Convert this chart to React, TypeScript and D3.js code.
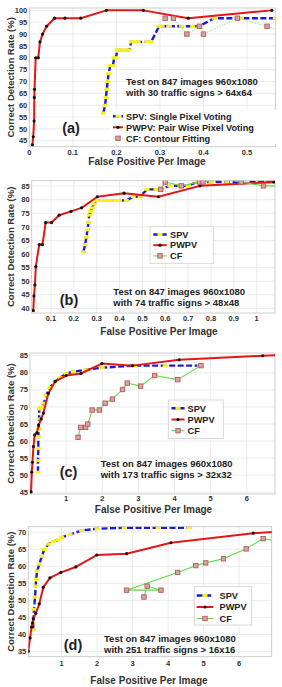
import React, { useEffect, useRef } from "react";
import * as d3 from "d3";

type Pt = [number, number];

// (a) 30 traffic signs > 64x64
const spvA: Pt[] = [
  [0.170, 56.7], [0.174, 60], [0.176, 63.3], [0.178, 66.7], [0.180, 70], [0.182, 73.3],
  [0.186, 76.7], [0.192, 76.7], [0.195, 80], [0.199, 80], [0.202, 83.3], [0.208, 83.3],
  [0.215, 83.3], [0.222, 83.3], [0.230, 83.3], [0.234, 86.7], [0.242, 86.7], [0.250, 86.7],
  [0.270, 86.7], [0.280, 86.7], [0.298, 93.3], [0.305, 93.3], [0.322, 93.3], [0.350, 93.3],
  [0.375, 93.3], [0.390, 93.3], [0.425, 96.7], [0.487, 96.7], [0.565, 96.7],
];
const pwpvA: Pt[] = [
  [0.007, 43.3], [0.009, 46.7], [0.011, 53.3], [0.0115, 63.3], [0.012, 66.7], [0.0146, 80],
  [0.0206, 80], [0.0245, 86.7], [0.0306, 90], [0.0398, 93.3], [0.058, 96.7], [0.0817, 96.7],
  [0.118, 96.7], [0.177, 100], [0.262, 100], [0.365, 96.7], [0.557, 100],
];
const cfA: Pt[] = [
  [0.312, 96.7], [0.331, 96.7], [0.362, 90], [0.391, 93.3], [0.400, 90], [0.478, 96.7],
  [0.546, 93.3], [0.600, 90],
];

// (b) 74 traffic signs > 48x48
const spvB: Pt[] = [
  [0.242, 60.8], [0.250, 63.5], [0.255, 66.2], [0.260, 68.9], [0.264, 71.6], [0.268, 74.3],
  [0.274, 75.7], [0.280, 77.0], [0.288, 78.4], [0.298, 79.7], [0.310, 79.7], [0.325, 79.7],
  [0.340, 79.7], [0.360, 79.7], [0.380, 79.7], [0.400, 79.7], [0.430, 79.7], [0.460, 81.1],
  [0.490, 81.1], [0.520, 83.8], [0.560, 83.8], [0.580, 83.8], [0.620, 85.1], [0.665, 85.1],
  [0.700, 85.1], [0.738, 86.5], [0.800, 86.5], [0.870, 86.5], [0.950, 86.5], [1.080, 86.5],
];
const pwpvB: Pt[] = [
  [0.023, 39.2], [0.026, 44.6], [0.030, 48.6], [0.034, 55.4], [0.049, 63.5], [0.063, 63.5],
  [0.077, 71.6], [0.103, 71.6], [0.136, 74.3], [0.188, 75.7], [0.234, 77.0], [0.303, 81.1],
  [0.420, 82.4], [0.570, 81.1], [0.752, 85.1], [1.075, 86.5],
];
const cfB: Pt[] = [
  [0.580, 83.8], [0.600, 86.5], [0.670, 85.1], [0.750, 86.5], [0.765, 86.5], [0.830, 87.8],
  [0.932, 86.5], [1.030, 85.1], [1.120, 85.1],
];

// (c) 173 traffic signs > 32x32
const spvC: Pt[] = [
  [0.22, 50.9], [0.22, 54.3], [0.23, 57.8], [0.23, 61.3], [0.24, 63.6], [0.25, 66.5],
  [0.26, 69.4], [0.30, 69.9], [0.38, 71.1], [0.45, 73.4], [0.55, 75.7], [0.70, 77.5],
  [0.85, 78.6], [1.00, 79.8], [1.20, 80.3], [1.55, 80.9], [2.00, 81.5], [2.90, 82.1],
  [3.74, 82.1], [4.70, 82.1],
];
const pwpvC: Pt[] = [
  [0.03, 45.1], [0.05, 50.9], [0.068, 53.8], [0.096, 58.4], [0.13, 61.8], [0.19, 62.4],
  [0.24, 64.7], [0.31, 66.5], [0.37, 68.2], [0.51, 74.0], [0.70, 77.5], [1.00, 79.2],
  [1.41, 79.8], [1.99, 82.7], [2.84, 82.1], [4.13, 83.8], [6.44, 85.0], [6.90, 85.2],
];
const cfC: Pt[] = [
  [1.33, 61.1], [1.40, 64.0], [1.54, 64.0], [1.60, 65.0], [1.72, 69.1], [1.92, 69.1],
  [2.08, 71.1], [2.28, 72.3], [2.56, 75.1], [2.69, 77.0], [3.06, 76.1], [3.45, 79.2],
  [4.09, 78.0], [4.73, 82.1],
];

// (d) 251 traffic signs > 16x16
const spvD: Pt[] = [
  [0.20, 41.4], [0.20, 43.4], [0.22, 47.4], [0.25, 51.0], [0.27, 54.2], [0.28, 56.2],
  [0.31, 58.6], [0.37, 60.6], [0.44, 62.9], [0.51, 64.9], [0.63, 66.5], [0.77, 67.3],
  [0.90, 67.7], [1.00, 68.5], [1.24, 69.3], [1.56, 70.5], [2.00, 71.0], [2.76, 71.3],
  [3.72, 71.3], [4.60, 71.3],
];
const pwpvD: Pt[] = [
  [0.06, 35.1], [0.11, 39.0], [0.15, 42.2], [0.18, 43.4], [0.20, 44.6], [0.27, 46.2],
  [0.37, 49.0], [0.48, 53.8], [0.67, 56.6], [0.98, 58.2], [1.40, 59.8], [1.99, 63.3],
  [2.83, 63.7], [4.08, 66.9], [6.40, 69.7], [7.00, 70.1],
];
const cfD: Pt[] = [
  [3.32, 51.0], [3.41, 54.2], [3.80, 53.0], [2.83, 53.0], [4.27, 58.2], [4.78, 60.2],
  [5.06, 61.0], [5.56, 62.2], [6.20, 65.1], [6.68, 68.1], [7.00, 67.5],
];

const xTicksA = [0, 0.1, 0.2, 0.3, 0.4, 0.5];
const xTicksB = [0.1, 0.2, 0.3, 0.4, 0.5, 0.6, 0.7, 0.8, 0.9, 1];
const xTicksCD = [1, 2, 3, 4, 5, 6];
const yTicksA = [45, 50, 55, 60, 65, 70, 75, 80, 85, 90, 95, 100];
const yTicksB = [40, 45, 50, 55, 60, 65, 70, 75, 80, 85];
const yTicksC = [45, 50, 55, 60, 65, 70, 75, 80, 85];
const yTicksD = [35, 40, 45, 50, 55, 60, 65, 70];

const legendLong = ["SPV: Single Pixel Voting", "PWPV: Pair Wise Pixel Voting", "CF: Contour Fitting"];
const legendShort = ["SPV", "PWPV", "CF"];
const panelTags = ["(a)", "(b)", "(c)", "(d)"];
const testLine = "Test on 847 images 960x1080";
const signLines = [
  "with 30 traffic signs > 64x64",
  "with 74 traffic signs > 48x48",
  "with 173 traffic signs > 32x32",
  "with 251 traffic signs > 16x16",
];

const FONT = "'Liberation Sans', Arial, Helvetica, sans-serif";
const BLUE = "#1c1cd8";
const YELLOW = "#f6f01c";
const RED = "#e51616";
const GREEN = "#5fdc45";
const PALE_GREEN = "#a8e8a0";

type G = d3.Selection<SVGGElement, unknown, null, undefined>;

interface Panel {
  spv: Pt[]; pwpv: Pt[]; cf: Pt[];
  xDom: [number, number]; yDom: [number, number];
  xTicks: number[]; yTicks: number[];
  box: { l: number; r: number; t: number; b: number };
  tickGap: number;
  xTitle: { x: number; y: number };
  legend: string[];
  leg: { x: number; y: number; w: number; h: number; rows: number[]; s0: number; s1: number; tx: number; border: boolean };
  note: { x: number; y: number };
  tag: { x: number; y: number };
  cfDotted: boolean;
}

const panels: Panel[] = [
  {
    spv: spvA, pwpv: pwpvA, cf: cfA, xDom: [0, 0.565], yDom: [42.5, 101],
    xTicks: xTicksA, yTicks: yTicksA, box: { l: 29.3, r: 275.3, t: 8, b: 146.7 }, tickGap: 6,
    xTitle: { x: 147, y: 161.5 },
    legend: legendLong,
    leg: { x: 110, y: 110, w: 166, h: 34, rows: [116.3, 127.3, 138.3], s0: 113, s1: 123, tx: 126, border: false },
    note: { x: 126, y: 81.7 }, tag: { x: 71, y: 128 }, cfDotted: true,
  },
  {
    spv: spvB, pwpv: pwpvB, cf: cfB, xDom: [0.016, 1.08], yDom: [38.3, 87],
    xTicks: xTicksB, yTicks: yTicksB, box: { l: 31.7, r: 275, t: 180.7, b: 313 }, tickGap: 5,
    xTitle: { x: 159, y: 331.5 },
    legend: legendShort,
    leg: { x: 150, y: 226.7, w: 63.3, h: 37, rows: [234.5, 245.2, 255.9], s0: 153.3, s1: 166.7, tx: 170, border: true },
    note: { x: 113.3, y: 291.7 }, tag: { x: 69, y: 300 }, cfDotted: false,
  },
  {
    spv: spvC, pwpv: pwpvC, cf: cfC, xDom: [0, 6.78], yDom: [44.5, 85.8],
    xTicks: xTicksCD, yTicks: yTicksC, box: { l: 30, r: 275, t: 353, b: 494 }, tickGap: 4.5,
    xTitle: { x: 153.5, y: 509 },
    legend: legendShort,
    leg: { x: 168.3, y: 400, w: 55, h: 38.5, rows: [408.3, 419.5, 430.7], s0: 171.5, s1: 184.5, tx: 187.5, border: true },
    note: { x: 100.7, y: 463.3 }, tag: { x: 68.5, y: 471.7 }, cfDotted: false,
  },
  {
    spv: spvD, pwpv: pwpvD, cf: cfD, xDom: [0.06, 6.92], yDom: [33.5, 71.6],
    xTicks: xTicksCD, yTicks: yTicksD, box: { l: 28.3, r: 271.7, t: 526.7, b: 656.7 }, tickGap: 6.5,
    xTitle: { x: 149, y: 680 },
    legend: legendShort,
    leg: { x: 194.3, y: 586.7, w: 57.4, h: 38.3, rows: [595.5, 607.0, 618.5], s0: 196.7, s1: 213.3, tx: 219.5, border: true },
    note: { x: 104, y: 638.3 }, tag: { x: 73, y: 645 }, cfDotted: false,
  },
];

function drawSpv(g: G, pts: Pt[], markers: Pt[] = pts) {
  g.append("path")
    .attr("d", d3.line()(pts))
    .attr("fill", "none")
    .attr("stroke", BLUE)
    .attr("stroke-width", 2.4)
    .attr("stroke-dasharray", "6 2.5");
  g.selectAll(null).data(markers).enter().append("rect")
    .attr("x", d => d[0] - 2.5).attr("y", d => d[1] - 1.5)
    .attr("width", 5).attr("height", 3)
    .attr("fill", YELLOW);
}

function drawPwpv(g: G, pts: Pt[], markers: Pt[] = pts) {
  g.append("path")
    .attr("d", d3.line()(pts))
    .attr("fill", "none")
    .attr("stroke", RED)
    .attr("stroke-width", 2)
    .attr("stroke-linejoin", "round");
  g.selectAll(null).data(markers).enter().append("circle")
    .attr("cx", d => d[0]).attr("cy", d => d[1]).attr("r", 1.6)
    .attr("fill", "#111");
}

function drawCf(g: G, pts: Pt[], dotted: boolean, markers: Pt[] = pts) {
  g.append("path")
    .attr("d", d3.line()(pts))
    .attr("fill", "none")
    .attr("stroke", dotted ? PALE_GREEN : GREEN)
    .attr("stroke-width", 1.1)
    .attr("stroke-dasharray", dotted ? "1.5 1.2" : null);
  g.selectAll(null).data(markers).enter().append("rect")
    .attr("x", d => d[0] - 2.2).attr("y", d => d[1] - 2.2)
    .attr("width", 4.4).attr("height", 4.4)
    .attr("fill", "#d9a3a3")
    .attr("stroke", "#b25a5a")
    .attr("stroke-width", 0.9);
}

export default function App() {
  const ref = useRef<SVGSVGElement>(null);

  useEffect(() => {
    const svg = d3.select(ref.current);
    svg.selectAll("*").remove();
    svg.append("rect").attr("width", 282).attr("height", 687).attr("fill", "#fff");

    panels.forEach((p, i) => {
      const { l, r, t, b } = p.box;
      const x = d3.scaleLinear().domain(p.xDom).range([l, r]);
      const y = d3.scaleLinear().domain(p.yDom).range([b, t]);
      const g = svg.append("g");

      g.append("rect").attr("x", l).attr("y", t).attr("width", r - l).attr("height", b - t)
        .attr("fill", "#fff");

      // grid
      g.selectAll(null).data(p.xTicks).enter().append("line")
        .attr("x1", d => x(d)).attr("x2", d => x(d)).attr("y1", t).attr("y2", b)
        .attr("stroke", "#e3e3e3").attr("stroke-width", 0.7);
      g.selectAll(null).data(p.yTicks).enter().append("line")
        .attr("x1", l).attr("x2", r).attr("y1", d => y(d)).attr("y2", d => y(d))
        .attr("stroke", "#e3e3e3").attr("stroke-width", 0.7);

      g.append("rect").attr("x", l).attr("y", t).attr("width", r - l).attr("height", b - t)
        .attr("fill", "none").attr("stroke", "#c4c4c4").attr("stroke-width", 0.8);

      // tick labels
      g.selectAll(null).data(p.yTicks).enter().append("text")
        .attr("x", l - 2).attr("y", d => y(d)).attr("dy", "0.35em")
        .attr("text-anchor", "end").attr("font-size", 7.5).attr("font-weight", "bold")
        .attr("font-family", FONT).attr("fill", "#333").text(d => String(d));
      g.selectAll(null).data(p.xTicks).enter().append("text")
        .attr("x", d => x(d)).attr("y", b + p.tickGap).attr("dy", "0.35em")
        .attr("text-anchor", "middle").attr("font-size", 7.5).attr("font-weight", "bold")
        .attr("font-family", FONT).attr("fill", "#333").text(d => String(d));

      // axis titles
      g.append("text")
        .attr("transform", `translate(10.5,${(t + b) / 2}) rotate(-90)`)
        .attr("text-anchor", "middle").attr("dy", "0.35em")
        .attr("font-size", 9.5).attr("font-weight", "bold").attr("font-family", FONT)
        .attr("fill", "#333").text("Correct Detection Rate (%)");
      g.append("text")
        .attr("x", p.xTitle.x).attr("y", p.xTitle.y).attr("dy", "0.35em")
        .attr("text-anchor", "middle").attr("font-size", 10).attr("font-weight", "bold")
        .attr("font-family", FONT).attr("fill", "#333").text("False Positive Per Image");

      // series, clipped to the plot box
      const clipId = `clip-${i}`;
      svg.append("clipPath").attr("id", clipId).append("rect")
        .attr("x", l).attr("y", t).attr("width", r - l).attr("height", b - t);
      const area = g.append("g").attr("clip-path", `url(#${clipId})`);
      const proj = (pts: Pt[]): Pt[] => pts.map(d => [x(d[0]), y(d[1])]);
      drawSpv(area.append("g"), proj(p.spv));
      drawPwpv(area.append("g"), proj(p.pwpv));
      drawCf(area.append("g"), proj(p.cf), p.cfDotted);

      // annotation
      [testLine, signLines[i]].forEach((s, k) => {
        g.append("text").attr("x", p.note.x).attr("y", p.note.y + k * 11).attr("dy", "0.35em")
          .attr("font-size", 9.5).attr("font-weight", "bold").attr("font-family", FONT)
          .attr("fill", "#222").text(s);
      });
      g.append("text").attr("x", p.tag.x).attr("y", p.tag.y).attr("dy", "0.35em")
        .attr("text-anchor", "middle").attr("font-size", 14.5).attr("font-weight", "bold")
        .attr("font-family", FONT).attr("fill", "#222").text(panelTags[i]);

      // legend
      const lg = p.leg;
      g.append("rect").attr("x", lg.x).attr("y", lg.y).attr("width", lg.w).attr("height", lg.h)
        .attr("fill", "#fff").attr("stroke", lg.border ? "#d0d0d0" : "none").attr("stroke-width", 0.8);
      const mid = (lg.s0 + lg.s1) / 2;
      const sample = (k: number): Pt[] => [[lg.s0, lg.rows[k]], [lg.s1, lg.rows[k]]];
      drawSpv(g.append("g"), sample(0), [[mid, lg.rows[0]]]);
      drawPwpv(g.append("g"), sample(1), [[mid, lg.rows[1]]]);
      drawCf(g.append("g"), sample(2), p.cfDotted, [[mid, lg.rows[2]]]);
      p.legend.forEach((s, k) => {
        g.append("text").attr("x", lg.tx).attr("y", lg.rows[k]).attr("dy", "0.35em")
          .attr("font-size", 9.2).attr("font-weight", "bold").attr("font-family", FONT)
          .attr("fill", "#222").text(s);
      });
    });
  }, []);

  return (
    <svg ref={ref} width={282} height={687}
      style={{ position: "absolute", left: 0, top: 0, display: "block" }} />
  );
}
